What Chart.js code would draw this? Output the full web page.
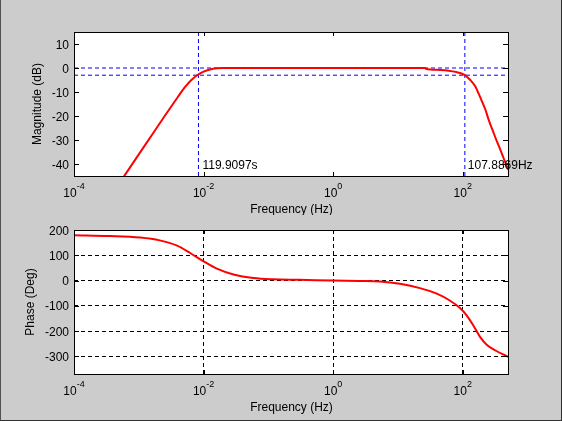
<!DOCTYPE html>
<html>
<head>
<meta charset="utf-8">
<script src="https://cdn.jsdelivr.net/npm/chart.js@4.4.1/dist/chart.umd.min.js"></script>
<style>
  html, body { margin: 0; padding: 0; }
  body { width: 562px; height: 421px; background: #cccccc; position: relative; overflow: hidden; }
  #frame { position: absolute; left: 0; top: 0; width: 562px; height: 421px; box-sizing: border-box;
           border-left: 1px solid #505050; border-right: 1px solid #303030; border-bottom: 1px solid #303030; }
  canvas { position: absolute; left: 0; }
  #mag { top: 0; }
  #phase { top: 215px; }
</style>
</head>
<body>
<div id="frame"></div>
<canvas id="mag" width="562" height="215"></canvas>
<canvas id="phase" width="562" height="206"></canvas>
<script>
// Data
const xTicks = [1e-4, 1e-2, 1, 1e2];
const xTickExp = ['-4', '-2', '0', '2'];
const magTicks = [-40, -30, -20, -10, 0, 10];
const phaseTicks = [-300, -200, -100, 0, 100, 200];

const magFreq = [0.000501, 0.000631, 0.001, 0.001585, 0.002512, 0.003981, 0.005012, 0.00631, 0.007943,
  0.01, 0.01259, 0.01585, 0.01995, 26, 27, 45, 61, 80, 98, 108, 116, 130, 157, 175, 198, 225, 251,
  290, 337, 380, 427, 480, 500];
const magDb = [-48.0, -44.0, -36.0, -28.0, -20.0, -12.2, -8.4, -5.3, -3.0,
  -1.5, -0.6, -0.15, 0, 0, -0.3, -0.8, -1.1, -1.7, -2.4, -3.0, -3.6, -4.9, -7.7, -10.5, -13.9, -17.5, -21.5,
  -26.0, -30.6, -34.0, -37.5, -41.0, -42.4];

const phaseFreq = [0.0001, 0.00036, 0.00105, 0.0021, 0.0039, 0.0062, 0.01, 0.016, 0.029, 0.059, 0.12, 0.3,
  1, 2.5, 5.3, 10.7, 21.9, 39.8, 63.1, 90.8, 114.8, 145.9, 186.2, 234.4, 316, 500];
const phaseDeg = [179, 176, 170, 159, 138, 109, 76, 47, 24, 10, 5, 3,
  0, -2, -4, -13, -30, -52, -79, -109, -138, -178, -224, -254, -276, -302];

const lowCutHz = 0.0083396;   // 119.9097 s
const highCutHz = 107.8869;
const refLevels = [0, -3];
const notes = [
  { x: 0.0096, y: -40, text: '119.9097s' },
  { x: 120, y: -40, text: '107.8869Hz' }
];

const FONT = '12px "Liberation Sans", Arial, sans-serif';
const FONT_SUP = '9px "Liberation Sans", Arial, sans-serif';

function toPoints(xs, ys) {
  return xs.map((x, i) => ({ x: x, y: ys[i] }));
}

// white axes background, box, inward ticks, labels
function matlabAxes(cfg) {
  return {
    id: 'matlabAxes',
    beforeDraw(chart) {
      const { ctx, chartArea: a } = chart;
      ctx.save();
      ctx.fillStyle = '#ffffff';
      ctx.fillRect(a.left, a.top, a.right - a.left, a.bottom - a.top);
      ctx.restore();
    },
    afterDraw(chart) {
      const { ctx, chartArea: a } = chart;
      const xs = chart.scales.x, ys = chart.scales.y;
      ctx.save();
      ctx.strokeStyle = '#000';
      ctx.lineWidth = 1;
      ctx.beginPath();
      xTicks.forEach(v => {
        const px = Math.round(xs.getPixelForValue(v)) + 0.5;
        ctx.moveTo(px, a.bottom); ctx.lineTo(px, a.bottom - 4);
        ctx.moveTo(px, a.top); ctx.lineTo(px, a.top + 4);
      });
      cfg.yTicks.forEach(v => {
        const py = Math.round(ys.getPixelForValue(v)) + 0.5;
        ctx.moveTo(a.left, py); ctx.lineTo(a.left + 5, py);
        ctx.moveTo(a.right, py); ctx.lineTo(a.right - 5, py);
      });
      ctx.stroke();
      ctx.strokeRect(a.left + 0.5, a.top + 0.5, a.right - a.left, a.bottom - a.top);

      ctx.fillStyle = '#000';
      // x tick labels 10^n
      xTicks.forEach((v, i) => {
        const px = xs.getPixelForValue(v);
        ctx.font = FONT;
        const w1 = ctx.measureText('10').width;
        ctx.font = FONT_SUP;
        const w2 = ctx.measureText(xTickExp[i]).width;
        const start = px - (w1 + w2) / 2;
        ctx.textAlign = 'left';
        ctx.textBaseline = 'alphabetic';
        ctx.font = FONT;
        ctx.fillText('10', start, a.bottom + 21);
        ctx.font = FONT_SUP;
        ctx.fillText(xTickExp[i], start + w1, a.bottom + 13);
      });
      // y tick labels
      ctx.font = FONT;
      ctx.textAlign = 'right';
      cfg.yTicks.forEach(v => {
        ctx.fillText(String(v), a.left - 5, ys.getPixelForValue(v) + 4.5);
      });
      // axis titles
      ctx.textAlign = 'center';
      ctx.fillText('Frequency (Hz)', (a.left + a.right) / 2 + 0.5, a.bottom + 37);
      ctx.save();
      ctx.translate(cfg.yTitleX, (a.top + a.bottom) / 2);
      ctx.rotate(-Math.PI / 2);
      ctx.fillText(cfg.yTitle, 0, 0);
      ctx.restore();
      // text notes
      ctx.textAlign = 'left';
      (cfg.notes || []).forEach(n => {
        ctx.fillText(n.text, xs.getPixelForValue(n.x), ys.getPixelForValue(n.y) + 4.5);
      });
      ctx.restore();
    }
  };
}

function baseScales(yMin, yMax, yTickList, showGrid) {
  const grid = showGrid
    ? { display: true, color: '#000', lineWidth: 1, drawTicks: false }
    : { display: false };
  return {
    x: {
      type: 'logarithmic', min: 1e-4, max: 500,
      afterBuildTicks: s => { s.ticks = xTicks.map(v => ({ value: v })); },
      afterFit: s => { s.height = 0; },
      ticks: { display: false },
      grid: grid,
      border: { display: false, dash: [4, 3] }
    },
    y: {
      type: 'linear', min: yMin, max: yMax,
      afterBuildTicks: s => { s.ticks = yTickList.map(v => ({ value: v })); },
      afterFit: s => { s.width = 0; },
      ticks: { display: false },
      grid: grid,
      border: { display: false, dash: [4, 3] }
    }
  };
}

function makeChart(id, datasets, scales, padding, plugin) {
  return new Chart(document.getElementById(id), {
    type: 'scatter',
    data: { datasets: datasets },
    options: {
      responsive: false,
      animation: false,
      events: [],
      layout: { padding: padding },
      plugins: { legend: { display: false }, tooltip: { enabled: false } },
      scales: scales
    },
    plugins: [plugin]
  });
}

function dashed(points) {
  return {
    data: points, showLine: true, pointRadius: 0,
    borderColor: '#0000ff', borderWidth: 1, borderDash: [4, 3]
  };
}

function curve(points) {
  return {
    data: points, showLine: true, pointRadius: 0,
    borderColor: '#ff0000', borderWidth: 2,
    cubicInterpolationMode: 'monotone'
  };
}

// Magnitude plot
const magSets = [curve(toPoints(magFreq, magDb))];
[lowCutHz, highCutHz].forEach(f => magSets.push(dashed([{ x: f, y: -45 }, { x: f, y: 15 }])));
refLevels.forEach(l => magSets.push(dashed([{ x: 1e-4, y: l }, { x: 500, y: l }])));

makeChart('mag', magSets, baseScales(-45, 15, magTicks, false),
  { left: 74, right: 54, top: 32, bottom: 39 },
  matlabAxes({ yTicks: magTicks, yTitle: 'Magnitude (dB)', yTitleX: 41, notes: notes }));

// Phase plot
makeChart('phase', [curve(toPoints(phaseFreq, phaseDeg))], baseScales(-370, 200, phaseTicks, true),
  { left: 74, right: 54, top: 15, bottom: 47 },
  matlabAxes({ yTicks: phaseTicks, yTitle: 'Phase (Deg)', yTitleX: 34 }));
</script>
</body>
</html>
